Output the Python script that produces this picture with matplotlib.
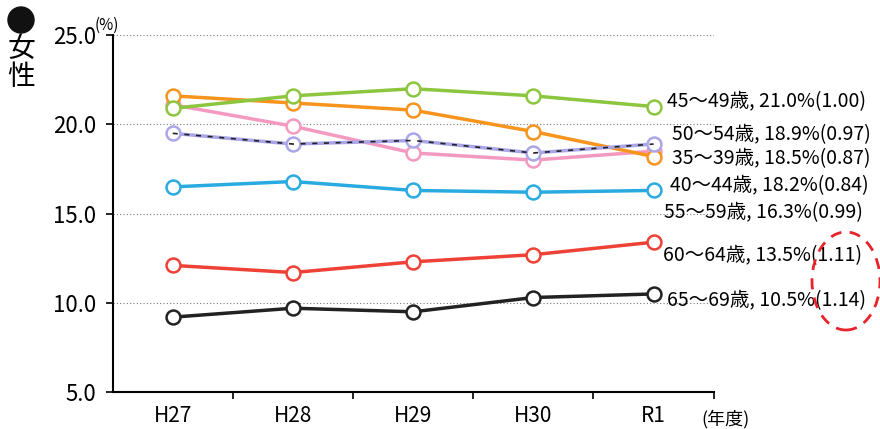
import matplotlib
matplotlib.use('Agg')
import matplotlib.pyplot as plt
from matplotlib.patches import Ellipse

plt.rcParams['font.family'] = ['Noto Sans CJK JP', 'DejaVu Sans']

years = ['H27', 'H28', 'H29', 'H30', 'R1']

age_45_49 = [20.9, 21.6, 22.0, 21.6, 21.0]
age_40_44 = [21.6, 21.2, 20.8, 19.6, 18.2]
age_35_39 = [21.1, 19.9, 18.4, 18.0, 18.5]
age_50_54 = [19.5, 18.9, 19.1, 18.4, 18.9]
age_55_59 = [16.5, 16.8, 16.3, 16.2, 16.3]
age_60_64 = [12.1, 11.7, 12.3, 12.7, 13.4]
age_65_69 = [9.2, 9.7, 9.5, 10.3, 10.5]

labels = ['45〜49歳, 21.0%(1.00)', '50〜54歳, 18.9%(0.97)', '35〜39歳, 18.5%(0.87)',
          '40〜44歳, 18.2%(0.84)', '55〜59歳, 16.3%(0.99)', '60〜64歳, 13.5%(1.11)',
          '65〜69歳, 10.5%(1.14)']
label_y = [21.3, 19.45, 18.1, 16.55, 15.05, 12.65, 10.15]
label_x = [4.11, 4.15, 4.15, 4.14, 4.09, 4.08, 4.11]

series = [
    (age_35_39, '#f49ac1'),
    (age_40_44, '#f7941d'),
    (age_45_49, '#8cc63f'),
    (age_55_59, '#29abe2'),
    (age_60_64, '#ef4136'),
    (age_65_69, '#222222'),
]

fig = plt.figure(figsize=(8.8, 4.29), dpi=100)
ax = fig.add_axes([0.128, 0.086, 0.683, 0.832])

x = range(len(years))
for vals, col in series:
    ax.plot(x, vals, color=col, lw=2.5, marker='o', ms=10, mfc='white', mec=col, mew=1.8, zorder=3)

# 50-54 line: lavender with black dashes over it
ax.plot(x, age_50_54, color='#aaa6e8', lw=2.5, marker='o', ms=10, mfc='white', mec='#aaa6e8', mew=1.8, zorder=3)
ax.plot(x, age_50_54, color='#222222', lw=1.2, ls=(0, (3, 4)), zorder=3)

ax.set_xlim(-0.5, 4.5)
ax.set_ylim(5, 25)
ax.set_yticks([5, 10, 15, 20, 25])
ax.set_yticklabels(['5.0', '10.0', '15.0', '20.0', '25.0'], fontsize=16)
ax.set_xticks(list(x))
ax.set_xticklabels(years, fontsize=15)
ax.set_xticks([0.5, 1.5, 2.5, 3.5, 4.5], minor=True)
ax.tick_params(axis='x', which='major', length=0, pad=9)
ax.tick_params(axis='x', which='minor', length=5, width=1.2, direction='out')
ax.tick_params(axis='y', length=5, width=1.2, pad=7)
for yv in [10, 15, 20, 25]:
    ax.axhline(yv, color='#777777', lw=0.8, ls=(0, (1, 2)), zorder=1)
for s in ['top', 'right']:
    ax.spines[s].set_visible(False)
for s in ['left', 'bottom']:
    ax.spines[s].set_linewidth(1.5)

for txt, yv, xv in zip(labels, label_y, label_x):
    ax.text(xv, yv, txt, fontsize=14, ha='left', va='center', clip_on=False)

fig.text(95 / 880, 1 - 25 / 429, '(%)', fontsize=11, ha='left', va='center')
fig.text(725 / 880, 1 - 419 / 429, '(年度)', fontsize=13, ha='center', va='center')

fig.add_artist(Ellipse((21 / 880, 1 - 20 / 429), 26 / 880, 26 / 429,
                       transform=fig.transFigure, color='#111111'))
fig.text(21 / 880, 1 - 49 / 429, '女', fontsize=20, ha='center', va='center')
fig.text(21 / 880, 1 - 77 / 429, '性', fontsize=20, ha='center', va='center')

fig.add_artist(Ellipse((846 / 880, 1 - 281 / 429), 68 / 880, 98 / 429, transform=fig.transFigure,
                       fill=False, ec='#e8242a', lw=2, ls=(0, (4, 3))))

fig.savefig('out.png', dpi=100)
